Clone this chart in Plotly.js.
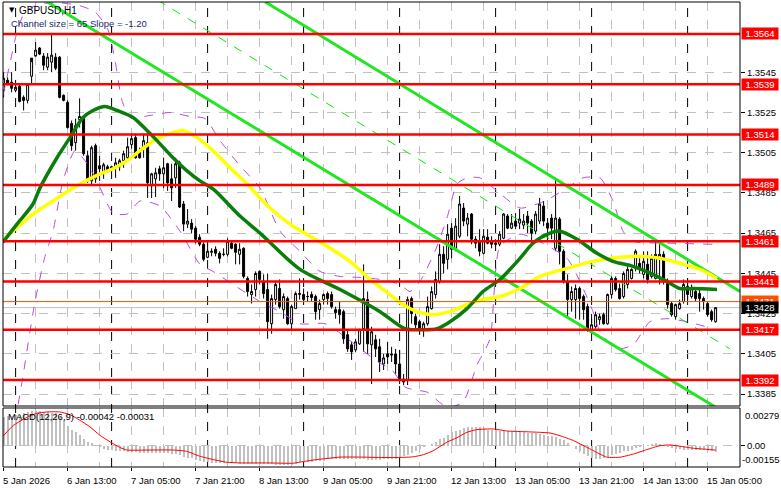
<!DOCTYPE html>
<html><head><meta charset="utf-8">
<script src="https://cdn.plot.ly/plotly-3.0.1.min.js"></script>
<style>html,body{margin:0;padding:0;background:#fff;}#chart{width:781px;height:489px;}</style>
</head><body><div id="chart"></div>
<script>
// ---------- DATA ----------
const symbolTitle = "GBPUSD,H1";
const channelText = "Channel size = 65 Slope = -1.20";
const macdText = "MACD(12,26,9) -0.00042 -0.00031";

const open = [1.3536,1.3541,1.3540,1.3536,1.3538,1.35325,1.3531,1.3543,1.3553,1.3557,
1.3553,1.35475,1.3550,1.35525,1.35525,1.35335,1.3530,1.35195,1.3510,1.35215,
1.3522,1.35035,1.3491,1.35085,1.34985,1.3495,1.3498,1.3497,1.34975,1.3498,
1.3501,1.35025,1.3509,1.35125,1.3506,1.3507,1.3510,1.34885,1.3492,1.3497,
1.34945,1.34995,1.3492,1.34925,1.3500,1.34795,1.34695,1.3470,1.34675,1.3463,
1.34595,1.3453,1.34555,1.3457,1.3455,1.34545,1.34545,1.3460,1.34595,1.34545,
1.34575,1.34425,1.34345,1.3437,1.3446,1.3441,1.3437,1.3420,1.3432,1.34375,
1.3427,1.34325,1.3420,1.34275,1.34345,1.34345,1.34335,1.34345,1.34335,1.3427,
1.3432,1.3435,1.34345,1.3427,1.3427,1.3426,1.34145,1.34095,1.3407,1.3410,
1.34175,1.3432,1.34095,1.3412,1.34085,1.3400,1.3405,1.3405,1.3405,1.3400,
1.33925,1.3392,1.34325,1.34235,1.3421,1.34175,1.3420,1.34275,1.34345,1.3441,
1.34545,1.3452,1.34675,1.34575,1.34635,1.34775,1.34695,1.34745,1.3462,1.3461,
1.3455,1.3463,1.3461,1.3460,1.34595,1.34625,1.34735,1.34675,1.3471,1.3470,
1.3469,1.34735,1.3471,1.3466,1.3471,1.34785,1.3470,1.34725,1.34575,1.3472,
1.3456,1.3441,1.3432,1.3432,1.34375,1.34335,1.34285,1.3417,1.34185,1.3422,
1.34245,1.3420,1.34345,1.34425,1.34375,1.34335,1.34395,1.34425,1.34475,1.3450,
1.34445,1.34495,1.34435,1.34425,1.3452,1.34545,1.3440,1.3430,1.34235,1.34275,
1.3431,1.34385,1.34335,1.3436,1.3435,1.34325,1.3430,1.3426,1.3421];
const high = [1.3545,1.35425,1.3545,1.35385,1.3539,1.35335,1.35395,1.3550,1.3560,1.35575,
1.35545,1.35545,1.35645,1.35545,1.3553,1.3534,1.3531,1.3521,1.3522,1.3532,
1.35235,1.3506,1.35085,1.35095,1.35035,1.3500,1.3499,1.34985,1.35025,1.3502,
1.3506,1.35125,1.35145,1.35145,1.35075,1.35145,1.35145,1.3495,1.34975,1.34985,
1.35025,1.3500,1.34995,1.35025,1.3501,1.3481,1.3477,1.3472,1.34685,1.34645,
1.34605,1.3457,1.34575,1.34585,1.3456,1.34575,1.34625,1.3461,1.3460,1.3460,
1.3458,1.34435,1.34395,1.3446,1.34465,1.34445,1.3445,1.34345,1.3441,1.3442,
1.3435,1.34335,1.34295,1.3436,1.34425,1.34375,1.3436,1.3436,1.34345,1.3432,
1.3435,1.3436,1.3436,1.34285,1.3431,1.3427,1.3417,1.3411,1.34125,1.34175,
1.34495,1.3436,1.34185,1.34145,1.34125,1.3405,1.3411,1.34085,1.34075,1.3407,
1.3395,1.34335,1.34335,1.3425,1.3422,1.3421,1.34335,1.34385,1.3446,1.34595,
1.34585,1.34695,1.3470,1.34725,1.34835,1.3480,1.3475,1.3475,1.34635,1.3467,
1.3467,1.3467,1.34635,1.3462,1.3466,1.3475,1.34745,1.34745,1.3475,1.3477,
1.34745,1.3476,1.3472,1.3476,1.34825,1.3481,1.34725,1.34745,1.3492,1.3473,
1.3457,1.34445,1.34385,1.34395,1.34385,1.34345,1.3430,1.34225,1.3426,1.3425,
1.34255,1.3435,1.34435,1.34435,1.3440,1.3446,1.34485,1.34475,1.3457,1.34525,
1.3456,1.3456,1.34545,1.3462,1.34595,1.3456,1.34425,1.3431,1.3430,1.3432,
1.3442,1.34425,1.34395,1.34375,1.34375,1.34335,1.3431,1.3427,1.3428];
const low = [1.35325,1.35385,1.3535,1.3535,1.3530,1.3526,1.35295,1.35395,1.35535,1.35535,
1.3546,1.3546,1.3545,1.3546,1.3532,1.35305,1.3517,1.3506,1.3506,1.35175,
1.35035,1.3490,1.34885,1.3490,1.3491,1.3492,1.3495,1.3496,1.34925,1.3496,
1.34975,1.3501,1.3507,1.3502,1.3502,1.35025,1.34825,1.34825,1.3483,1.3491,
1.34875,1.3486,1.3481,1.34875,1.34775,1.3466,1.34675,1.3465,1.3460,1.34585,
1.3451,1.34525,1.34535,1.34535,1.3450,1.34535,1.34535,1.3457,1.34495,1.34495,
1.34425,1.34335,1.3430,1.34335,1.34395,1.34325,1.34125,1.3415,1.34295,1.34275,
1.34225,1.34195,1.3417,1.34275,1.3432,1.3431,1.3431,1.3431,1.3422,1.3422,
1.34295,1.34295,1.34275,1.34225,1.3420,1.3410,1.3406,1.3402,1.3406,1.34095,
1.3406,1.3405,1.3390,1.34035,1.3396,1.3397,1.3400,1.3401,1.3395,1.3390,
1.33895,1.33895,1.3420,1.34175,1.34145,1.34135,1.3419,1.3427,1.34325,1.3440,
1.3445,1.3447,1.34525,1.3456,1.34625,1.34685,1.34635,1.34595,1.34575,1.34535,
1.34545,1.34595,1.34575,1.34585,1.34585,1.3462,1.3467,1.3467,1.3467,1.3467,
1.3467,1.3465,1.34595,1.34645,1.34695,1.34685,1.3461,1.3462,1.3456,1.34495,
1.3440,1.34225,1.3426,1.34225,1.3422,1.3422,1.3416,1.3415,1.34175,1.34195,
1.34195,1.34195,1.34325,1.3436,1.3432,1.34325,1.34375,1.3442,1.3446,1.3445,
1.34425,1.3440,1.34425,1.3442,1.34395,1.34395,1.34275,1.34235,1.3422,1.3427,
1.3430,1.3432,1.34325,1.3431,1.3426,1.3427,1.34235,1.3421,1.34205];
const close = [1.3542,1.35395,1.3537,1.35375,1.35305,1.3531,1.3539,1.3552,1.3556,1.3554,
1.35485,1.35525,1.35535,1.3547,1.35325,1.3531,1.35175,1.35085,1.35185,1.3523,
1.35045,1.3491,1.35075,1.3492,1.3497,1.3499,1.3496,1.3498,1.3500,1.3501,
1.35045,1.3508,1.3512,1.35025,1.35025,1.3511,1.3490,1.34945,1.3495,1.34945,
1.34975,1.3490,1.34875,1.34995,1.3478,1.34695,1.3471,1.3467,1.3462,1.34595,
1.3452,1.3456,1.3456,1.3455,1.34525,1.34545,1.3461,1.34575,1.34555,1.3457,
1.34435,1.3436,1.3436,1.3445,1.3442,1.3435,1.3421,1.34325,1.34395,1.34285,
1.34335,1.3420,1.34285,1.3435,1.3435,1.3432,1.34335,1.3433,1.3426,1.3430,
1.34345,1.34325,1.34285,1.34255,1.34245,1.34125,1.34075,1.3406,1.3411,1.3417,
1.34325,1.3410,1.3416,1.34075,1.3401,1.3403,1.34035,1.34045,1.3400,1.3392,
1.3391,1.3432,1.3425,1.34195,1.34175,1.3420,1.34285,1.3436,1.3442,1.34545,
1.3450,1.34645,1.3457,1.34685,1.34795,1.3471,1.34725,1.3462,1.3460,1.3456,
1.34635,1.3460,1.34595,1.34595,1.34645,1.34745,1.34675,1.3470,1.34685,1.3472,
1.3471,1.3470,1.3465,1.34745,1.34795,1.3471,1.34675,1.34675,1.34725,1.3456,
1.3441,1.3432,1.3436,1.34375,1.34325,1.3427,1.3417,1.34195,1.34245,1.34235,
1.3420,1.34345,1.34425,1.3437,1.34325,1.3445,1.3447,1.3447,1.3456,1.3447,
1.3451,1.3442,1.34525,1.34545,1.34545,1.3441,1.34295,1.34245,1.34295,1.3430,
1.34395,1.34345,1.34375,1.34325,1.34325,1.3431,1.34245,1.3422,1.3428];

// Moving averages (bar position, price)
const maGreenX = [-0.15,3.35,7.35,9.1,13.35,16.6,19.85,22.35,25.35,28.35,32.35,35.85,38.35,42.35,45.85,49.1,52.35,59.1,64.1,74.1,84.1,94.1,100.35,104.85,108.35,111.6,115.85,119.85,124.1,129.1,132.35,136.6,139.1,143.35,148.35,152.35,157.35,162.35,165.85,169.1,172.35,178.35];
const maGreenY = [1.34605,1.34695,1.34795,1.34875,1.35025,1.35125,1.35225,1.3526,1.3528,1.3526,1.35225,1.3516,1.3511,1.35025,1.3496,1.3491,1.3487,1.34735,1.3465,1.3447,1.3437,1.3426,1.34175,1.3417,1.34175,1.3421,1.34275,1.3436,1.3442,1.34525,1.346,1.3465,1.3466,1.3462,1.3455,1.3451,1.34485,1.34445,1.3441,1.34375,1.34375,1.3437];
const maYellowX = [0.35,2.35,7.35,12.35,17.35,24.1,27.35,30.85,34.1,38.35,42.35,44.85,48.35,52.35,56.6,60.85,64.1,66.6,71.6,76.6,81.6,86.6,91.6,96.6,99.85,103.35,107.35,111.6,115.85,119.85,124.1,129.1,134.1,140.85,147.35,154.1,159.1,164.1,169.1,174.1,178.35];
const maYellowY = [1.3463,1.3466,1.34745,1.3481,1.34875,1.34945,1.3497,1.3501,1.3506,1.3512,1.3515,1.3516,1.35125,1.3506,1.34975,1.34895,1.34825,1.34775,1.34695,1.34635,1.34575,1.3451,1.3442,1.34345,1.34295,1.3426,1.34245,1.3426,1.34295,1.3432,1.34335,1.34375,1.34435,1.34475,1.3451,1.3453,1.34535,1.34525,1.345,1.3447,1.34425];

// Envelope bands (dashed violet)
const bandUpX = [-0.15,1.6,3.35,5.35,9.1,14.1,19.1,22.85,26.1,27.85,29.6,31.6,36.6,41.6,46.6,50.35,54.1,59.1,64.1,69.1,74.1,79.1,84.1,89.1,94.1,99.1,101.6,104.1,107.85,110.85,113.35,115.85,119.1,123.35,129.1,135.35,140.85,144.85,149.1,152.35,154.85,157.35,167.35,177.35];
const bandUpY = [1.35335,1.35495,1.3565,1.3575,1.3579,1.35795,1.3578,1.3575,1.3566,1.3551,1.3531,1.35225,1.35235,1.3525,1.3523,1.3522,1.3511,1.34985,1.34875,1.3466,1.3456,1.3446,1.34435,1.3443,1.3442,1.34395,1.3436,1.3441,1.3456,1.34725,1.34895,1.34925,1.34925,1.3486,1.34775,1.3481,1.34875,1.34925,1.34925,1.3481,1.3466,1.3461,1.346,1.34595];
const bandLoX = [2.85,4.6,7.85,10.35,12.35,14.85,17.85,20.35,23.35,27.35,30.85,34.1,39.1,44.1,49.1,52.35,57.35,64.1,69.1,74.1,80.35,85.35,88.6,93.6,97.1,100.35,103.35,105.85,110.85,114.85,118.35,121.6,124.1,129.1,132.35,140.85,144.1,147.35,149.1,153.35,157.35,161.6,165.85,170.85,177.35];
const bandLoY = [1.3371,1.3391,1.3431,1.34535,1.3466,1.3491,1.3506,1.3501,1.3491,1.3475,1.34745,1.3481,1.34785,1.3466,1.34495,1.3446,1.34395,1.3431,1.3426,1.342,1.342,1.34135,1.34085,1.3401,1.3397,1.33885,1.3387,1.3386,1.33785,1.3381,1.33995,1.34125,1.34585,1.34645,1.34625,1.34525,1.3441,1.3426,1.3416,1.34075,1.34095,1.3421,1.34225,1.3421,1.34175];

// Regression channel (bar position, price) end points
const chanUpperX = [65.35,184.1], chanUpperY = [1.3580,1.3436];
const chanLowerX = [10.85,178.4], chanLowerY = [1.3580,1.3378];
const chanMidX = [38.35,181.6], chanMidY = [1.3581,1.34075];

// Levels
const redLevels = [1.3564,1.3539,1.3514,1.3489,1.3461,1.3441,1.3417,1.3392];
const orangeLevel = 1.3431;
const bidLevel = 1.3428;
const priceTicks = [1.3385,1.3405,1.3425,1.3445,1.3465,1.3485,1.3505,1.3525,1.3545];

// MACD histogram per bar and signal line samples
const macdHist = [0.0021,0.0022,0.0022,0.0023,0.0023,0.0024,0.0025,0.0026,0.0026,0.0026,
0.0025,0.0025,0.0024,0.0024,0.0021,0.0019,0.0015,0.0012,0.0010,0.0008,
0.0005,0.0003,0.0002,0.0001,-0.00005,-0.0002,-0.0003,-0.0003,-0.0004,-0.0004,
-0.0004,-0.00045,-0.00045,-0.00045,-0.0005,-0.0005,-0.0005,-0.0005,-0.0005,-0.0005,
-0.0005,-0.0005,-0.0006,-0.0006,-0.0007,-0.0008,-0.0009,-0.0009,-0.0010,-0.0011,
-0.0012,-0.0012,-0.00125,-0.00125,-0.00125,-0.00125,-0.00125,-0.00125,-0.00125,-0.0013,
-0.0013,-0.0013,-0.0013,-0.0013,-0.0013,-0.0013,-0.0013,-0.0013,-0.0014,-0.0014,
-0.0014,-0.0014,-0.0014,-0.0013,-0.0012,-0.0012,-0.0012,-0.0012,-0.0011,-0.0011,
-0.0011,-0.00095,-0.00095,-0.00095,-0.00095,-0.00095,-0.00095,-0.00095,-0.00095,-0.00095,
-0.00095,-0.001,-0.001,-0.001,-0.001,-0.00098,-0.00095,-0.00098,-0.00093,-0.00083,
-0.00076,-0.00066,-0.0005,-0.00034,-0.0002,-0.0001,0.0,0.00012,0.0003,0.0005,
0.0006,0.0008,0.001,0.0011,0.0012,0.0013,0.0014,0.0014,0.0014,0.0014,
0.0013,0.0012,0.0012,0.0012,0.0011,0.0011,0.0011,0.0011,0.001,0.001,
0.001,0.00095,0.00093,0.00093,0.0009,0.0008,0.00075,0.0007,0.00065,0.0005,
0.0004,0.0002,0.0,-0.0002,-0.0004,-0.0006,-0.00075,-0.0009,-0.00095,-0.00095,
-0.0009,-0.0008,-0.00065,-0.0006,-0.0005,-0.0004,-0.00035,-0.00027,-0.00015,-0.00007,
0.00002,0.0001,0.00015,0.0002,0.00017,0.00007,-0.00005,-0.00015,-0.0002,-0.00025,
-0.00027,-0.00027,-0.00027,-0.0003,-0.0003,-0.00032,-0.00035,-0.00037,-0.00042];
const macdSigX = [0,2.4,5.8,8.3,10.8,14,16.6,19,21.6,24,26.6,29,30.8,36.6,42.4,45.8,49,51.6,55.8,59,65.8,72.4,75,78.3,81.6,84.1,89,94.1,99.1,102.4,104.9,107.4,110.8,113.3,115.8,118.3,122.4,125.8,130,134,136.6,139.1,142.4,145.8,149.1,150.8,154.1,157.4,160.8,164.1,166.6,169.1,172.4,175.8,178];
const macdSigY = [0.00076,0.0015,0.0021,0.0024,0.0025,0.0025,0.0023,0.0019,0.0014,0.0008,0.0003,-0.0001,-0.0003,-0.0003,-0.0003,-0.0004,-0.00075,-0.00095,-0.0012,-0.00125,-0.00125,-0.00127,-0.00115,-0.001,-0.0009,-0.00082,-0.00082,-0.00085,-0.00085,-0.0008,-0.00065,-0.00035,0.00027,0.0006,0.001,0.0012,0.00125,0.0011,0.00105,0.001,0.00095,0.00075,0.0004,-0.0001,-0.0006,-0.00083,-0.00083,-0.0006,-0.00027,0.00002,0.00007,-0.00002,-0.00017,-0.00025,-0.00031];
const macdRange = [-0.00155, 0.00279];

// Time axis
const tickIdx = [0,16,32,48,64,80,96,112,128,144,160,176];
const tickText = ["5 Jan 2026","6 Jan 13:00","7 Jan 05:00","7 Jan 21:00","8 Jan 13:00","9 Jan 05:00","9 Jan 21:00","12 Jan 13:00","13 Jan 05:00","13 Jan 21:00","14 Jan 13:00","15 Jan 05:00"];
const dayStartIdx = [3,27,51,75,99,123,147,171];

// ---------- CHART ----------
const FONT = "Liberation Sans, Arial, sans-serif";
const idx = open.map((_, i) => i);
const W = 781, H = 489, ML = 3, MR = 41, MT = 2, MB = 22;
const plotH = H - MT - MB, plotW = W - ML - MR;
const mainDom = [(467 - 406) / plotH, 1];
const macdDom = [0, (467 - 408) / plotH];
const px2paperX = p => (p - ML) / plotW;
const px2paperY = p => (H - MB - p) / plotH;

const traces = [
  {type:'scatter', mode:'lines', x:bandUpX, y:bandUpY, line:{color:'#b44be1', width:1, dash:'dash', shape:'spline', smoothing:0.6}, hoverinfo:'skip'},
  {type:'scatter', mode:'lines', x:bandLoX, y:bandLoY, line:{color:'#b44be1', width:1, dash:'dash', shape:'spline', smoothing:0.6}, hoverinfo:'skip'},
  {type:'scatter', mode:'lines', x:chanMidX, y:chanMidY, line:{color:'#00ee00', width:1, dash:'dash'}, hoverinfo:'skip'},
  {type:'scatter', mode:'lines', x:chanUpperX, y:chanUpperY, line:{color:'#22e622', width:3}, hoverinfo:'skip'},
  {type:'scatter', mode:'lines', x:chanLowerX, y:chanLowerY, line:{color:'#22e622', width:3}, hoverinfo:'skip'},
  {type:'scatter', mode:'lines', x:maYellowX, y:maYellowY, line:{color:'#ffff00', width:3.5, shape:'spline', smoothing:0.8}, hoverinfo:'skip'},
  {type:'scatter', mode:'lines', x:maGreenX, y:maGreenY, line:{color:'#0a7d0a', width:3.5, shape:'spline', smoothing:0.8}, hoverinfo:'skip'},
  {type:'candlestick', x:idx, open:open, high:high, low:low, close:close, whiskerwidth:0,
   increasing:{line:{color:'#000', width:1}, fillcolor:'#fff'},
   decreasing:{line:{color:'#000', width:1}, fillcolor:'#000'}, hoverinfo:'skip'},
  {type:'bar', x:idx, y:macdHist, yaxis:'y2', marker:{color:'#c0c0c0', line:{width:0}}, width:0.5, hoverinfo:'skip'},
  {type:'scatter', mode:'lines', x:macdSigX, y:macdSigY, yaxis:'y2', line:{color:'#ff0000', width:1, shape:'spline', smoothing:0.5}, hoverinfo:'skip'}
];

const shapes = [];
dayStartIdx.forEach(k => shapes.push({type:'line', xref:'x', yref:'paper', x0:k, x1:k, y0:0, y1:1, line:{color:'#000', width:1, dash:'dash'}, layer:'below'}));
redLevels.forEach(v => shapes.push({type:'line', xref:'paper', yref:'y', x0:0, x1:1, y0:v, y1:v, line:{color:'#ff0000', width:2.5}, layer:'above'}));
shapes.push({type:'line', xref:'paper', yref:'y', x0:0, x1:1, y0:orangeLevel, y1:orangeLevel, line:{color:'#ff5000', width:1}, layer:'above'});
shapes.push({type:'line', xref:'paper', yref:'y', x0:0, x1:1, y0:bidLevel, y1:bidLevel, line:{color:'#c0c0c0', width:1}, layer:'below'});
shapes.push({type:'rect', xref:'paper', yref:'paper', x0:0, x1:1, y0:mainDom[0], y1:1, line:{color:'#000', width:1}});
shapes.push({type:'rect', xref:'paper', yref:'paper', x0:0, x1:1, y0:macdDom[0], y1:macdDom[1], line:{color:'#000', width:1}});

const annotations = [];
const lblFont = {family:FONT, size:9.5, color:'#fff'};
redLevels.forEach(v => annotations.push({xref:'paper', yref:'y', x:1, y:v, xanchor:'left', yanchor:'middle', xshift:1, text:v.toFixed(4), showarrow:false, font:lblFont, bgcolor:'#ff0000', borderpad:0, width:36, height:11}));
annotations.push({xref:'paper', yref:'y', x:1, y:orangeLevel, xanchor:'left', yanchor:'middle', xshift:1, text:orangeLevel.toFixed(4), showarrow:false, font:lblFont, bgcolor:'#ff5000', borderpad:0, width:36, height:11});
annotations.push({xref:'paper', yref:'y', x:1, y:bidLevel, xanchor:'left', yanchor:'middle', xshift:1, text:bidLevel.toFixed(4), showarrow:false, font:lblFont, bgcolor:'#000', borderpad:0, width:36, height:11});
annotations.push({xref:'paper', yref:'y2', x:1, y:macdRange[1], xanchor:'left', yanchor:'top', xshift:3, text:macdRange[1].toFixed(5), showarrow:false, font:{family:FONT, size:9.5, color:'#000'}});
annotations.push({xref:'paper', yref:'y2', x:1, y:macdRange[0], xanchor:'left', yanchor:'bottom', xshift:0, text:macdRange[0].toFixed(5), showarrow:false, font:{family:FONT, size:9.5, color:'#000'}});
tickIdx.forEach((k, i) => annotations.push({xref:'x', yref:'paper', x:k, y:px2paperY(481), xanchor:'left', yanchor:'middle', xshift:-3, text:tickText[i], showarrow:false, font:{family:FONT, size:9.5, color:'#000'}}));
annotations.push({xref:'paper', yref:'paper', x:px2paperX(7), y:px2paperY(10), xanchor:'left', yanchor:'middle', text:'\u25BC', showarrow:false, font:{family:'DejaVu Sans', size:7, color:'#000'}});
annotations.push({xref:'paper', yref:'paper', x:px2paperX(17), y:px2paperY(10), xanchor:'left', yanchor:'middle', text:symbolTitle, showarrow:false, font:{family:FONT, size:10, color:'#000'}});
annotations.push({xref:'paper', yref:'paper', x:px2paperX(9), y:px2paperY(23), xanchor:'left', yanchor:'middle', text:channelText, showarrow:false, font:{family:FONT, size:9.5, color:'#1a2a6a'}});
annotations.push({xref:'paper', yref:'paper', x:px2paperX(6), y:px2paperY(416), xanchor:'left', yanchor:'middle', text:macdText, showarrow:false, font:{family:FONT, size:9.5, color:'#000'}});

const layout = {
  width:W, height:H, margin:{l:ML, r:MR, t:MT, b:MB}, paper_bgcolor:'#fff', plot_bgcolor:'#fff',
  showlegend:false, bargap:0, dragmode:false,
  font:{family:FONT, size:9.5, color:'#000'},
  xaxis:{range:[-0.15, 184.1], anchor:'y2', tickvals:tickIdx, ticktext:tickText.map(()=>''), showticklabels:false,
    ticks:'outside', ticklen:3, tickcolor:'#000', showgrid:true, gridcolor:'#c0c0c0', griddash:'dash', gridwidth:1,
    minor:{tick0:0, dtick:8, showgrid:true, gridcolor:'#c0c0c0', griddash:'dash', gridwidth:1},
    zeroline:false, showline:false, rangeslider:{visible:false}, fixedrange:true},
  yaxis:{domain:mainDom, range:[1.33791, 1.35799], side:'right', tickvals:priceTicks, ticktext:priceTicks.map(v=>v.toFixed(4)),
    ticks:'outside', ticklen:4, tickcolor:'#000', tickfont:{family:FONT, size:9.5, color:'#000'},
    showgrid:true, gridcolor:'#c0c0c0', griddash:'dash', zeroline:false, showline:false, fixedrange:true},
  yaxis2:{domain:macdDom, range:macdRange, side:'right', tickvals:[0], ticktext:['0.00'],
    ticks:'outside', ticklen:4, tickcolor:'#000', tickfont:{family:FONT, size:9.5, color:'#000'},
    showgrid:true, gridcolor:'#c0c0c0', griddash:'dash', zeroline:false, showline:false, fixedrange:true},
  shapes:shapes, annotations:annotations
};
Plotly.newPlot('chart', traces, layout, {staticPlot:true, displayModeBar:false});
</script></body></html>
